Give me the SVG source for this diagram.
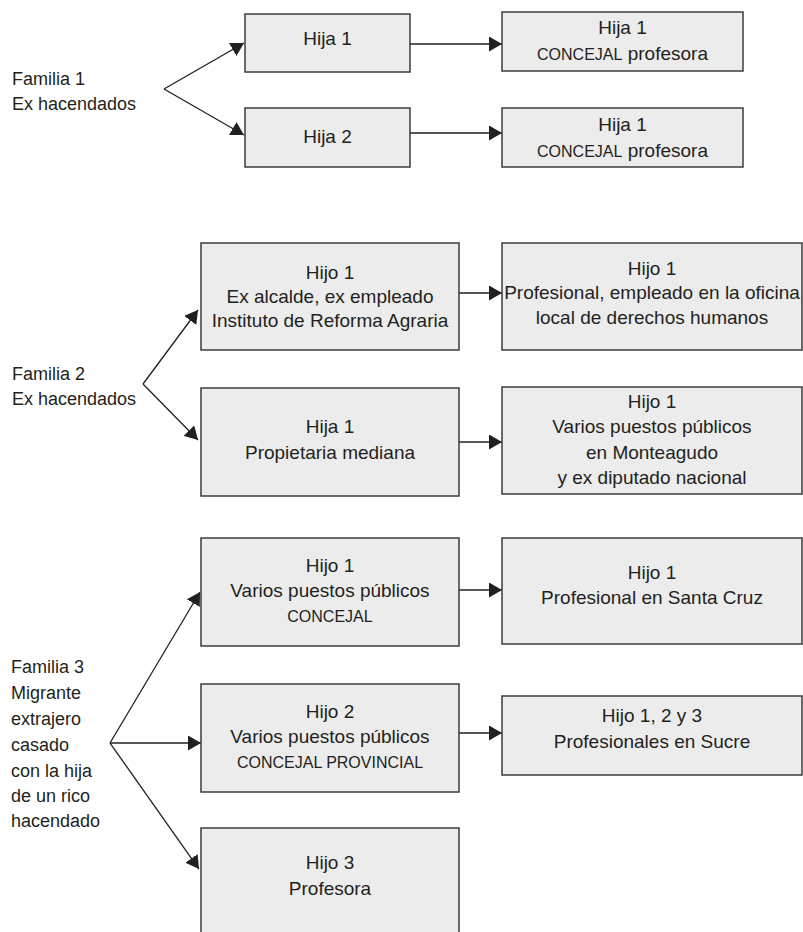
<svg xmlns="http://www.w3.org/2000/svg" width="803" height="932" viewBox="0 0 803 932">
<style>
.box{fill:#ececec;stroke:#3c3c3c;stroke-width:1.5}
.t{font-family:"Liberation Sans",Arial,sans-serif;font-size:19px;fill:#231f20;text-anchor:middle}
.sm{font-size:16px}
.lab{font-family:"Liberation Sans",Arial,sans-serif;font-size:18px;fill:#231f20}
.con{fill:none;stroke:#231f20;stroke-width:1.3;marker-end:url(#ah)}
</style>
<defs>
<marker id="ah" markerUnits="userSpaceOnUse" markerWidth="13" markerHeight="15" viewBox="0 0 13 15" refX="13" refY="7.5" orient="auto">
<path d="M0,0 L13,7.5 L0,15 Z" fill="#231f20"/>
</marker>
</defs>
<rect width="803" height="932" fill="#ffffff"/>

<g id="connectors">
<line class="con" x1="164" y1="89" x2="244" y2="43"/>
<line class="con" x1="164" y1="89" x2="244" y2="135"/>
<line class="con" x1="410" y1="44" x2="502" y2="44"/>
<line class="con" x1="410" y1="133" x2="502" y2="133"/>
<line class="con" x1="143" y1="384" x2="198" y2="310"/>
<line class="con" x1="143" y1="384" x2="198" y2="440"/>
<line class="con" x1="459" y1="293" x2="502" y2="293"/>
<line class="con" x1="459" y1="442" x2="502" y2="442"/>
<line class="con" x1="110" y1="743" x2="200" y2="592"/>
<line class="con" x1="110" y1="743" x2="201" y2="743"/>
<line class="con" x1="110" y1="743" x2="199" y2="869"/>
<line class="con" x1="459" y1="590" x2="502" y2="590"/>
<line class="con" x1="459" y1="733" x2="502" y2="733"/>
</g>

<g id="familia1">
<text class="lab" x="12" y="85">Familia 1</text>
<text class="lab" x="12" y="110">Ex hacendados</text>
</g>
<g id="f1-hija1">
<rect class="box" x="245" y="14" width="165" height="58"/>
<text class="t" x="327.5" y="45">Hija 1</text>
</g>
<g id="f1-hija2">
<rect class="box" x="245" y="108" width="165" height="59"/>
<text class="t" x="327.5" y="143">Hija 2</text>
</g>
<g id="f1-hija1-r">
<rect class="box" x="502" y="12" width="241" height="59"/>
<text class="t" x="622.5" y="34">Hija 1</text>
<text class="t" x="622.5" y="60"><tspan class="sm">CONCEJAL</tspan> profesora</text>
</g>
<g id="f1-hija2-r">
<rect class="box" x="502" y="108" width="241" height="59"/>
<text class="t" x="622.5" y="131">Hija 1</text>
<text class="t" x="622.5" y="157"><tspan class="sm">CONCEJAL</tspan> profesora</text>
</g>

<g id="familia2">
<text class="lab" x="12" y="380">Familia 2</text>
<text class="lab" x="12" y="405">Ex hacendados</text>
</g>
<g id="f2-hijo1">
<rect class="box" x="201" y="243" width="258" height="107"/>
<text class="t" x="330" y="279">Hijo 1</text>
<text class="t" x="330" y="303">Ex alcalde, ex empleado</text>
<text class="t" x="330" y="327">Instituto de Reforma Agraria</text>
</g>
<g id="f2-hijo1-r">
<rect class="box" x="502" y="243" width="300" height="107"/>
<text class="t" x="652" y="275">Hijo 1</text>
<text class="t" x="652" y="299">Profesional, empleado en la oficina</text>
<text class="t" x="652" y="324">local de derechos humanos</text>
</g>
<g id="f2-hija1">
<rect class="box" x="201" y="388" width="258" height="108"/>
<text class="t" x="330" y="433">Hija 1</text>
<text class="t" x="330" y="459">Propietaria mediana</text>
</g>
<g id="f2-hija1-r">
<rect class="box" x="502" y="387" width="300" height="107"/>
<text class="t" x="652" y="408">Hijo 1</text>
<text class="t" x="652" y="433">Varios puestos públicos</text>
<text class="t" x="652" y="459">en Monteagudo</text>
<text class="t" x="652" y="484">y ex diputado nacional</text>
</g>

<g id="familia3">
<text class="lab" x="11" y="673">Familia 3</text>
<text class="lab" x="11" y="699">Migrante</text>
<text class="lab" x="11" y="725">extrajero</text>
<text class="lab" x="11" y="751">casado</text>
<text class="lab" x="11" y="777">con la hija</text>
<text class="lab" x="11" y="802">de un rico</text>
<text class="lab" x="11" y="827">hacendado</text>
</g>
<g id="f3-hijo1">
<rect class="box" x="201" y="538" width="258" height="108"/>
<text class="t" x="330" y="572">Hijo 1</text>
<text class="t" x="330" y="597">Varios puestos públicos</text>
<text class="t sm" x="330" y="622">CONCEJAL</text>
</g>
<g id="f3-hijo2">
<rect class="box" x="201" y="684" width="258" height="108"/>
<text class="t" x="330" y="718">Hijo 2</text>
<text class="t" x="330" y="743">Varios puestos públicos</text>
<text class="t sm" x="330" y="768">CONCEJAL PROVINCIAL</text>
</g>
<g id="f3-hijo3">
<rect class="box" x="201" y="828" width="258" height="120"/>
<text class="t" x="330" y="869">Hijo 3</text>
<text class="t" x="330" y="895">Profesora</text>
</g>
<g id="f3-hijo1-r">
<rect class="box" x="502" y="538" width="300" height="106"/>
<text class="t" x="652" y="579">Hijo 1</text>
<text class="t" x="652" y="604">Profesional en Santa Cruz</text>
</g>
<g id="f3-hijos-r">
<rect class="box" x="502" y="696" width="300" height="79"/>
<text class="t" x="652" y="722">Hijo 1, 2 y 3</text>
<text class="t" x="652" y="748">Profesionales en Sucre</text>
</g>
</svg>
